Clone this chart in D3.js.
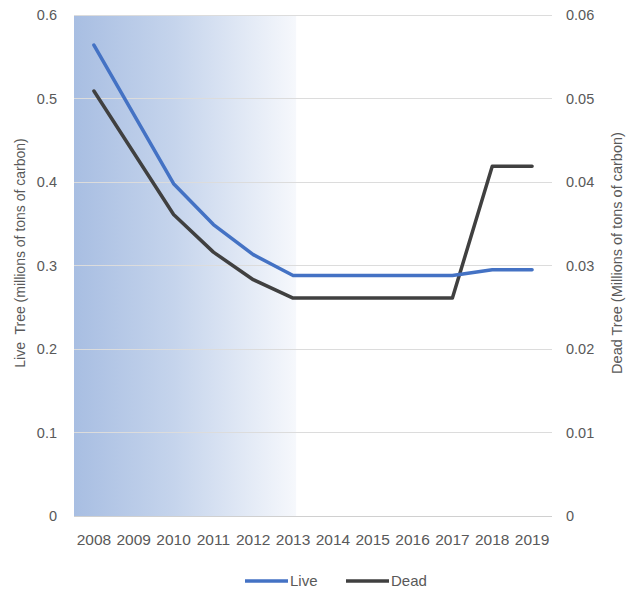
<!DOCTYPE html>
<html><head><meta charset="utf-8">
<script src="https://cdn.jsdelivr.net/npm/d3@7"></script>
<style>body{margin:0;background:#fff;}svg{display:block;font-family:"Liberation Sans",Arial,sans-serif;}</style>
</head><body>
<svg id="chart" width="626" height="590"></svg>
<script>
const years = ["2008","2009","2010","2011","2012","2013","2014","2015","2016","2017","2018","2019"];
const liveValues = [0.564,0.481,0.398,0.349,0.313,0.288,0.288,0.288,0.288,0.288,0.295,0.295];
const deadValues = [0.0509,0.0435,0.0361,0.0316,0.0283,0.0261,0.0261,0.0261,0.0261,0.0261,0.0419,0.0419];
const leftTicks = [0,0.1,0.2,0.3,0.4,0.5,0.6];
const rightTicks = [0,0.01,0.02,0.03,0.04,0.05,0.06];
const shadedYears = ["2008","2013"];

const svg = d3.select("#chart");
const L = 74, R = 552, T = 15, B = 516;
const x = d3.scaleBand().domain(years).range([L, R]);
const yL = d3.scaleLinear().domain([0,0.6]).range([B,T]);
const yR = d3.scaleLinear().domain([0,0.06]).range([B,T]);

const defs = svg.append("defs");
const g = defs.append("linearGradient").attr("id","shade").attr("x1","0").attr("x2","1").attr("y1","0").attr("y2","0");
g.append("stop").attr("offset","0").attr("stop-color","#a8bee2");
g.append("stop").attr("offset","0.45").attr("stop-color","#c5d4ec");
g.append("stop").attr("offset","1").attr("stop-color","#f6f8fc");

const sx0 = x(shadedYears[0]);
const sx1 = x(shadedYears[1]) + x.bandwidth()/2 + 3;
svg.append("rect").attr("x", sx0).attr("y", T).attr("width", sx1 - sx0).attr("height", B - T).attr("fill","url(#shade)");

// gridlines
svg.append("g").selectAll("line").data(leftTicks).join("line")
  .attr("x1", L).attr("x2", R).attr("y1", d=>yL(d)).attr("y2", d=>yL(d))
  .attr("stroke", d => d===0 ? "#d0d0d0" : "#dcdcdc").attr("stroke-width",1).attr("shape-rendering","crispEdges");

const tickColor = "#595959";
// left axis labels
svg.append("g").selectAll("text").data(leftTicks).join("text")
  .attr("x", 57).attr("y", d=>yL(d)).attr("dy","0.35em").attr("text-anchor","end")
  .attr("font-size",14.5).attr("fill",tickColor).text(d=>d3.format("")(d));
// right axis labels
svg.append("g").selectAll("text").data(rightTicks).join("text")
  .attr("x", 566).attr("y", d=>yR(d)).attr("dy","0.35em").attr("text-anchor","start")
  .attr("font-size",14.5).attr("fill",tickColor).text(d=>d3.format("")(d));
// x labels
svg.append("g").selectAll("text").data(years).join("text")
  .attr("x", d=>x(d)+x.bandwidth()/2).attr("y", 545).attr("text-anchor","middle")
  .attr("font-size",15.5).attr("fill",tickColor).text(d=>d);

// axis titles
svg.append("text").attr("transform","translate(25,253) rotate(-90)")
  .attr("text-anchor","middle").attr("font-size",14).attr("fill",tickColor)
  .style("white-space","pre").text("Live  Tree (millions of tons of carbon)");
svg.append("text").attr("transform","translate(622,253) rotate(-90)")
  .attr("text-anchor","middle").attr("font-size",14.5).attr("fill",tickColor)
  .text("Dead Tree (Millions of tons of carbon)");

// lines
const cx = d => x(d) + x.bandwidth()/2;
const lineL = d3.line().x((d,i)=>cx(years[i])).y(d=>yL(d));
const lineR = d3.line().x((d,i)=>cx(years[i])).y(d=>yR(d));
svg.append("path").datum(deadValues).attr("d", lineR).attr("fill","none")
  .attr("stroke","#404040").attr("stroke-width",3.5).attr("stroke-linejoin","round").attr("stroke-linecap","round");
svg.append("path").datum(liveValues).attr("d", lineL).attr("fill","none")
  .attr("stroke","#4472c4").attr("stroke-width",3.5).attr("stroke-linejoin","round").attr("stroke-linecap","round");

// legend
const legend = [{name:"Live",color:"#4472c4",x:245},{name:"Dead",color:"#404040",x:346}];
const lg = svg.append("g");
legend.forEach(l=>{
  lg.append("line").attr("x1",l.x).attr("x2",l.x+43).attr("y1",581).attr("y2",581)
    .attr("stroke",l.color).attr("stroke-width",3.5);
  lg.append("text").attr("x",l.x+45).attr("y",581).attr("dy","0.35em")
    .attr("font-size",15).attr("fill",tickColor).text(l.name);
});
</script>
</body></html>
